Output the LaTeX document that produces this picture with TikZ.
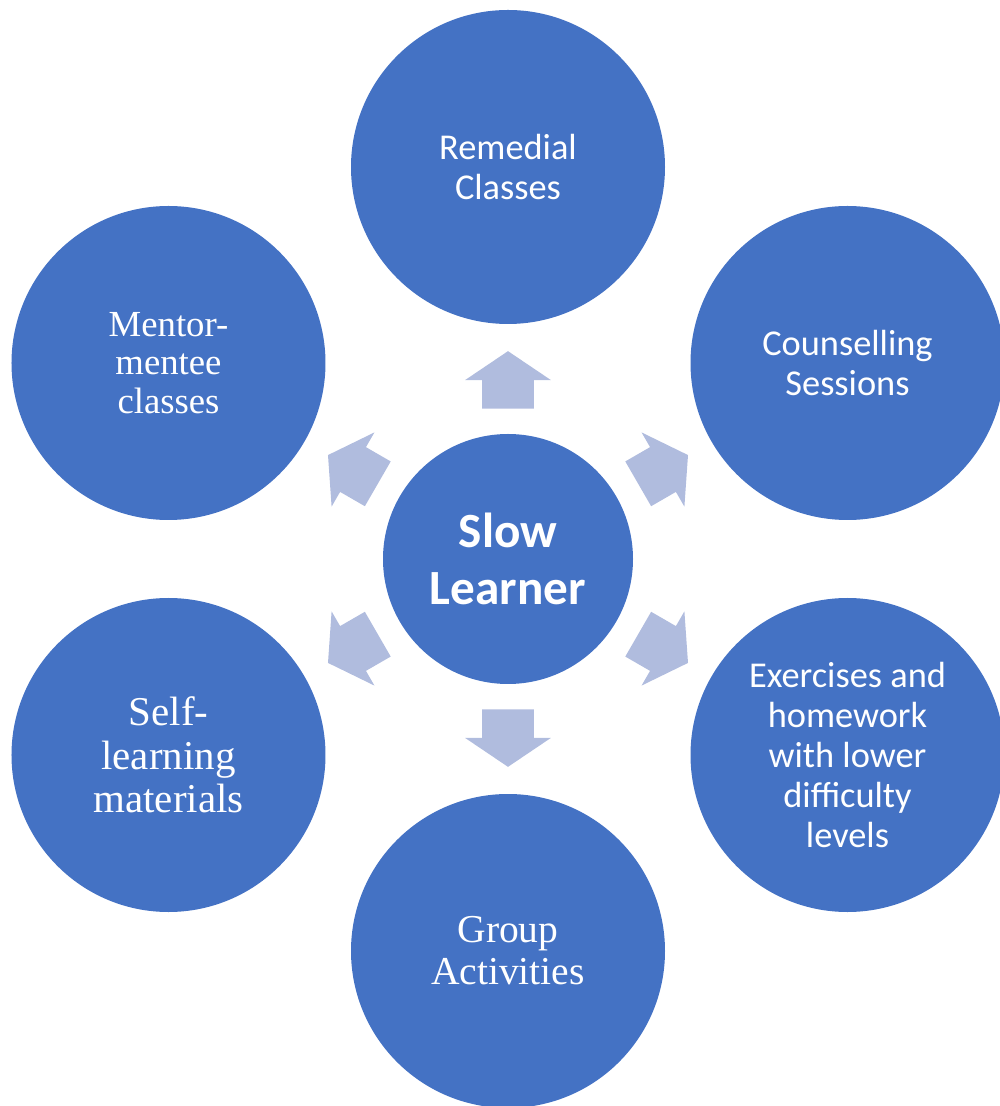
\documentclass[tikz,border=0pt]{standalone}
\usepackage{fontspec}
\setmainfont{Liberation Serif}
\newfontfamily\calibri{Carlito}
\usetikzlibrary{shapes.arrows}

\definecolor{bubbleblue}{RGB}{68,114,196}
\definecolor{arrowblue}{RGB}{176,188,222}

\tikzset{
  bubble/.style={circle, fill=bubbleblue, text=white, inner sep=0pt,
    minimum size=6.28cm, align=center},
  sanstext/.style={font=\calibri\fontsize{20.7}{22.9}\selectfont},
  seriftext/.style={font=\fontsize{21.5}{23.2}\selectfont},
  blockarrow/.style={single arrow, fill=arrowblue, inner xsep=0pt, inner ysep=0.51cm,
    minimum height=1.15cm, minimum width=1.7cm,
    single arrow head extend=0.34cm, single arrow tip angle=112, anchor=tail}
}

\begin{document}
\begin{tikzpicture}
      \useasboundingbox (-10.16,-10.94) rectangle (9.82,11.18);

      % centre
      \node (slow) at (0,0)
      [bubble, minimum size=5cm,
      font=\calibri\bfseries\fontsize{28}{32.3}\selectfont]
      {Slow\\Learner};

      % outer ring
      \node (remedial) at (0,7.84) [bubble, sanstext]
      {Remedial\\Classes};

      \node (counsel) at (6.79,3.92) [bubble, sanstext]
      {Counselling\\Sessions};

      \node (exercise) at (6.79,-3.92) [bubble, sanstext]
      {Exercises and\\homework\\with lower\\difficulty\\levels};

      \node (group) at (0,-7.84) [bubble, seriftext, font=\fontsize{22.5}{23.8}\selectfont]
      {Group\\Activities};

      \node (selflearn) at (-6.79,-3.92) [bubble, seriftext, font=\fontsize{23.3}{24.7}\selectfont]
      {Self-\\learning\\materials};

      \node (mentor) at (-6.79,3.92) [bubble, seriftext, font=\fontsize{20.9}{22.1}\selectfont]
      {Mentor-\\mentee\\classes};

      % block arrows
      \node (toremedial) at (90:3) [blockarrow, rotate=90] {};
      \node (tocounsel) at (30:3) [blockarrow, rotate=30] {};
      \node (toexercise) at (-30:3) [blockarrow, rotate=-30] {};
      \node (togroup) at (-90:3) [blockarrow, rotate=-90] {};
      \node (toselflearn) at (-150:3) [blockarrow, rotate=-150] {};
      \node (tomentor) at (150:3) [blockarrow, rotate=150] {};
\end{tikzpicture}
\end{document}
